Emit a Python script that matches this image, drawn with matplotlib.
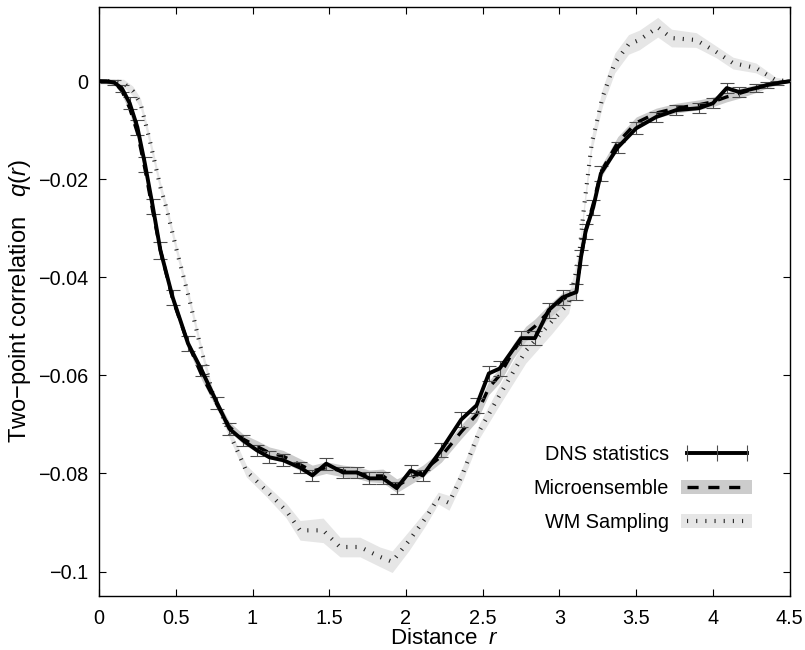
import matplotlib
matplotlib.use("Agg")
import matplotlib.pyplot as plt
from matplotlib.lines import Line2D
from matplotlib.patches import Patch
import numpy as np

plt.rcParams['font.family'] = ['Liberation Sans', 'DejaVu Sans']
plt.rcParams['mathtext.fontset'] = 'custom'
plt.rcParams['mathtext.rm'] = 'Liberation Sans'
plt.rcParams['mathtext.it'] = 'Liberation Sans:italic'
plt.rcParams['lines.scale_dashes'] = False

# DNS statistics (solid, with error bars)
dns_x = [0, 0.05, 0.1, 0.15, 0.2, 0.25, 0.3, 0.35, 0.4, 0.48, 0.58, 0.67, 0.77, 0.85,
         0.94, 1.03, 1.11, 1.2, 1.31, 1.39, 1.48, 1.59, 1.68, 1.76, 1.85, 1.94, 2.03,
         2.11, 2.23, 2.36, 2.46, 2.54, 2.61, 2.75, 2.84, 2.93, 3.02, 3.11, 3.14, 3.17,
         3.22, 3.27, 3.38, 3.5, 3.63, 3.76, 3.91, 4.0, 4.09, 4.17, 4.28, 4.35, 4.42, 4.5]
dns_y = [0, 0, -0.0003, -0.0015, -0.0045, -0.0094, -0.017, -0.0255, -0.0345, -0.0441,
         -0.0535, -0.059, -0.0657, -0.0709, -0.0733, -0.0753, -0.0767, -0.0773, -0.0788,
         -0.0804, -0.078, -0.0798, -0.0798, -0.081, -0.081, -0.083, -0.0794, -0.0804,
         -0.0752, -0.069, -0.0661, -0.0596, -0.0586, -0.0524, -0.0524, -0.0467, -0.0441,
         -0.043, -0.0359, -0.0306, -0.0257, -0.0188, -0.0135, -0.0096, -0.0073, -0.0059,
         -0.0055, -0.0045, -0.0014, -0.0022, -0.0014, -0.0008, -0.0004, 0]
dns_err = [0, 0.0003, 0.0005, 0.0008, 0.0012, 0.0015, 0.0015, 0.0015, 0.0017, 0.0015,
           0.0015, 0.0012, 0.0012, 0.0012, 0.0012, 0.0012, 0.0012, 0.0012, 0.0012, 0.0012,
           0.0012, 0.0012, 0.0012, 0.0012, 0.0012, 0.0012, 0.0012, 0.0012, 0.0015, 0.0015,
           0.0015, 0.0015, 0.0015, 0.0015, 0.0015, 0.0015, 0.0015, 0.0016, 0.0015, 0.0015,
           0.0015, 0.0015, 0.0012, 0.0012, 0.001, 0.001, 0.001, 0.001, 0.001, 0.001,
           0.0008, 0.0006, 0.0004, 0]

# Microensemble (dashed, grey band)
micro_x = [0, 0.1, 0.15, 0.2, 0.25, 0.3, 0.35, 0.4, 0.48, 0.58, 0.67, 0.77, 0.85, 0.94,
           1.03, 1.11, 1.2, 1.31, 1.39, 1.48, 1.59, 1.68, 1.76, 1.85, 1.94, 2.03, 2.11,
           2.23, 2.36, 2.46, 2.54, 2.61, 2.7, 2.78, 2.84, 2.93, 3.02, 3.11, 3.14, 3.17,
           3.22, 3.27, 3.38, 3.5, 3.63, 3.76, 3.91, 4.0, 4.09, 4.17, 4.28, 4.35, 4.42, 4.5]
micro_y = [0, -0.0002, -0.002, -0.0055, -0.0105, -0.018, -0.0265, -0.0345, -0.0445,
           -0.0535, -0.06, -0.066, -0.0705, -0.073, -0.0745, -0.0758, -0.0765, -0.0782,
           -0.0795, -0.0788, -0.0795, -0.0798, -0.0805, -0.0805, -0.0825, -0.081, -0.0795,
           -0.0765, -0.0715, -0.068, -0.0625, -0.06, -0.055, -0.0515, -0.05, -0.047,
           -0.0445, -0.043, -0.036, -0.0306, -0.025, -0.0185, -0.0125, -0.0085, -0.0065,
           -0.0055, -0.0048, -0.0042, -0.0032, -0.0025, -0.0015, -0.0008, -0.0003, 0]
micro_band = [0.0003, 0.0005, 0.0008, 0.001, 0.001, 0.001, 0.001, 0.001, 0.001, 0.001,
              0.001, 0.001, 0.001, 0.001, 0.0012, 0.0012, 0.0012, 0.0012, 0.0012, 0.0012,
              0.0012, 0.0012, 0.0012, 0.0014, 0.0014, 0.0012, 0.0012, 0.0012, 0.0014,
              0.0014, 0.0014, 0.0015, 0.0015, 0.0015, 0.0015, 0.0014, 0.0014, 0.0012,
              0.0012, 0.0012, 0.0012, 0.0012, 0.0012, 0.0012, 0.001, 0.001, 0.001, 0.001,
              0.001, 0.001, 0.0008, 0.0006, 0.0004, 0.0003]

# WM Sampling (dotted, light grey band)
wm_x = [0, 0.1, 0.16, 0.22, 0.27, 0.33, 0.4, 0.44, 0.51, 0.59, 0.66, 0.74, 0.8, 0.85,
        0.96, 1.09, 1.22, 1.31, 1.46, 1.57, 1.7, 1.83, 1.91, 2.02, 2.13, 2.21, 2.28, 2.37,
        2.48, 2.61, 2.78, 2.95, 3.06, 3.1, 3.13, 3.16, 3.21, 3.28, 3.36, 3.45, 3.52, 3.64,
        3.73, 3.89, 4.02, 4.13, 4.28, 4.41, 4.5]
wm_y = [0, 0, -0.0004, -0.002, -0.0045, -0.012, -0.0216, -0.026, -0.035, -0.0447, -0.054,
        -0.0637, -0.068, -0.0718, -0.0795, -0.0835, -0.0876, -0.0916, -0.0916, -0.095,
        -0.095, -0.097, -0.098, -0.0937, -0.089, -0.085, -0.086, -0.08, -0.0712, -0.064,
        -0.055, -0.049, -0.0453, -0.04, -0.035, -0.0257, -0.0127, -0.0033, 0.0037, 0.0075,
        0.0084, 0.011, 0.0088, 0.0084, 0.006, 0.0037, 0.0027, 0.0002, 0]
wm_band = [0.0003, 0.0005, 0.0008, 0.001, 0.001, 0.001, 0.001, 0.001, 0.001, 0.001,
           0.001, 0.001, 0.001, 0.001, 0.0012, 0.0012, 0.0015, 0.002, 0.0025, 0.002, 0.002,
           0.002, 0.0022, 0.002, 0.0015, 0.0012, 0.0015, 0.0015, 0.0015, 0.002, 0.0025,
           0.0025, 0.002, 0.0015, 0.0012, 0.0012, 0.0015, 0.0018, 0.002, 0.002, 0.002,
           0.002, 0.0018, 0.0015, 0.0012, 0.0012, 0.001, 0.0006, 0.0003]

xticks = [0, 0.5, 1, 1.5, 2, 2.5, 3, 3.5, 4, 4.5]
xtick_labels = ['0', '0.5', '1', '1.5', '2', '2.5', '3', '3.5', '4', '4.5']
yticks = [-0.1, -0.08, -0.06, -0.04, -0.02, 0]
ytick_labels = ['\u22120.1', '\u22120.08', '\u22120.06', '\u22120.04', '\u22120.02', '0']

fig = plt.figure(figsize=(8.05, 6.5), dpi=100)
ax = fig.add_axes([0.123, 0.083, 0.858, 0.906])

wm_lo = np.array(wm_y) - np.array(wm_band)
wm_hi = np.array(wm_y) + np.array(wm_band)
mi_lo = np.array(micro_y) - np.array(micro_band)
mi_hi = np.array(micro_y) + np.array(micro_band)

ax.fill_between(wm_x, wm_lo, wm_hi, color='0.9', lw=0, zorder=1)
ax.fill_between(micro_x, mi_lo, mi_hi, color='0.8', lw=0, zorder=2)
ax.plot(wm_x, wm_y, color='0.15', lw=3.0, ls=(0, (0.8, 5.8)), dash_capstyle='butt', zorder=3)
ax.plot(micro_x, micro_y, color='k', lw=2.4, ls=(0, (8, 7)), dash_capstyle='butt', zorder=4)
ax.errorbar(dns_x, dns_y, yerr=dns_err, color='k', lw=2.8, ecolor='0.3', elinewidth=0.8,
            capsize=5, capthick=0.8, zorder=5)

ax.set_xlim(0, 4.5)
ax.set_ylim(-0.105, 0.0151)
ax.set_xticks(xticks)
ax.set_xticklabels(xtick_labels)
ax.set_yticks(yticks)
ax.set_yticklabels(ytick_labels)
ax.tick_params(direction='in', length=5, width=0.8, top=True, right=True,
               labelsize=14.3, pad=8)
ax.tick_params(axis='x', pad=9)
for s in ax.spines.values():
    s.set_linewidth(1.0)

ax.set_xlabel('Distance  $r$', fontsize=16, labelpad=0.5)
ax.set_ylabel('Two\u2212point correlation   $q(r)$', fontsize=17, labelpad=3)

h_dns = Line2D([], [], color='k', lw=2.8, marker='|', markersize=12,
               markeredgewidth=0.8, markeredgecolor='0.3')
h_mi = (Patch(fc='0.8', ec='none'), Line2D([], [], color='k', lw=2.4, ls=(0, (8, 7))))
h_wm = (Patch(fc='0.9', ec='none'), Line2D([], [], color='0.15', lw=3.0, ls=(0, (0.8, 5.8))))
ax.legend([h_dns, h_mi, h_wm], ['DNS statistics', 'Microensemble', 'WM Sampling'],
          loc='lower right', bbox_to_anchor=(0.972, 0.078), frameon=False,
          markerfirst=False, numpoints=3, handlelength=3.6, fontsize=14.3,
          labelspacing=0.75, handletextpad=0.6)

fig.savefig('out.png', dpi=100)
